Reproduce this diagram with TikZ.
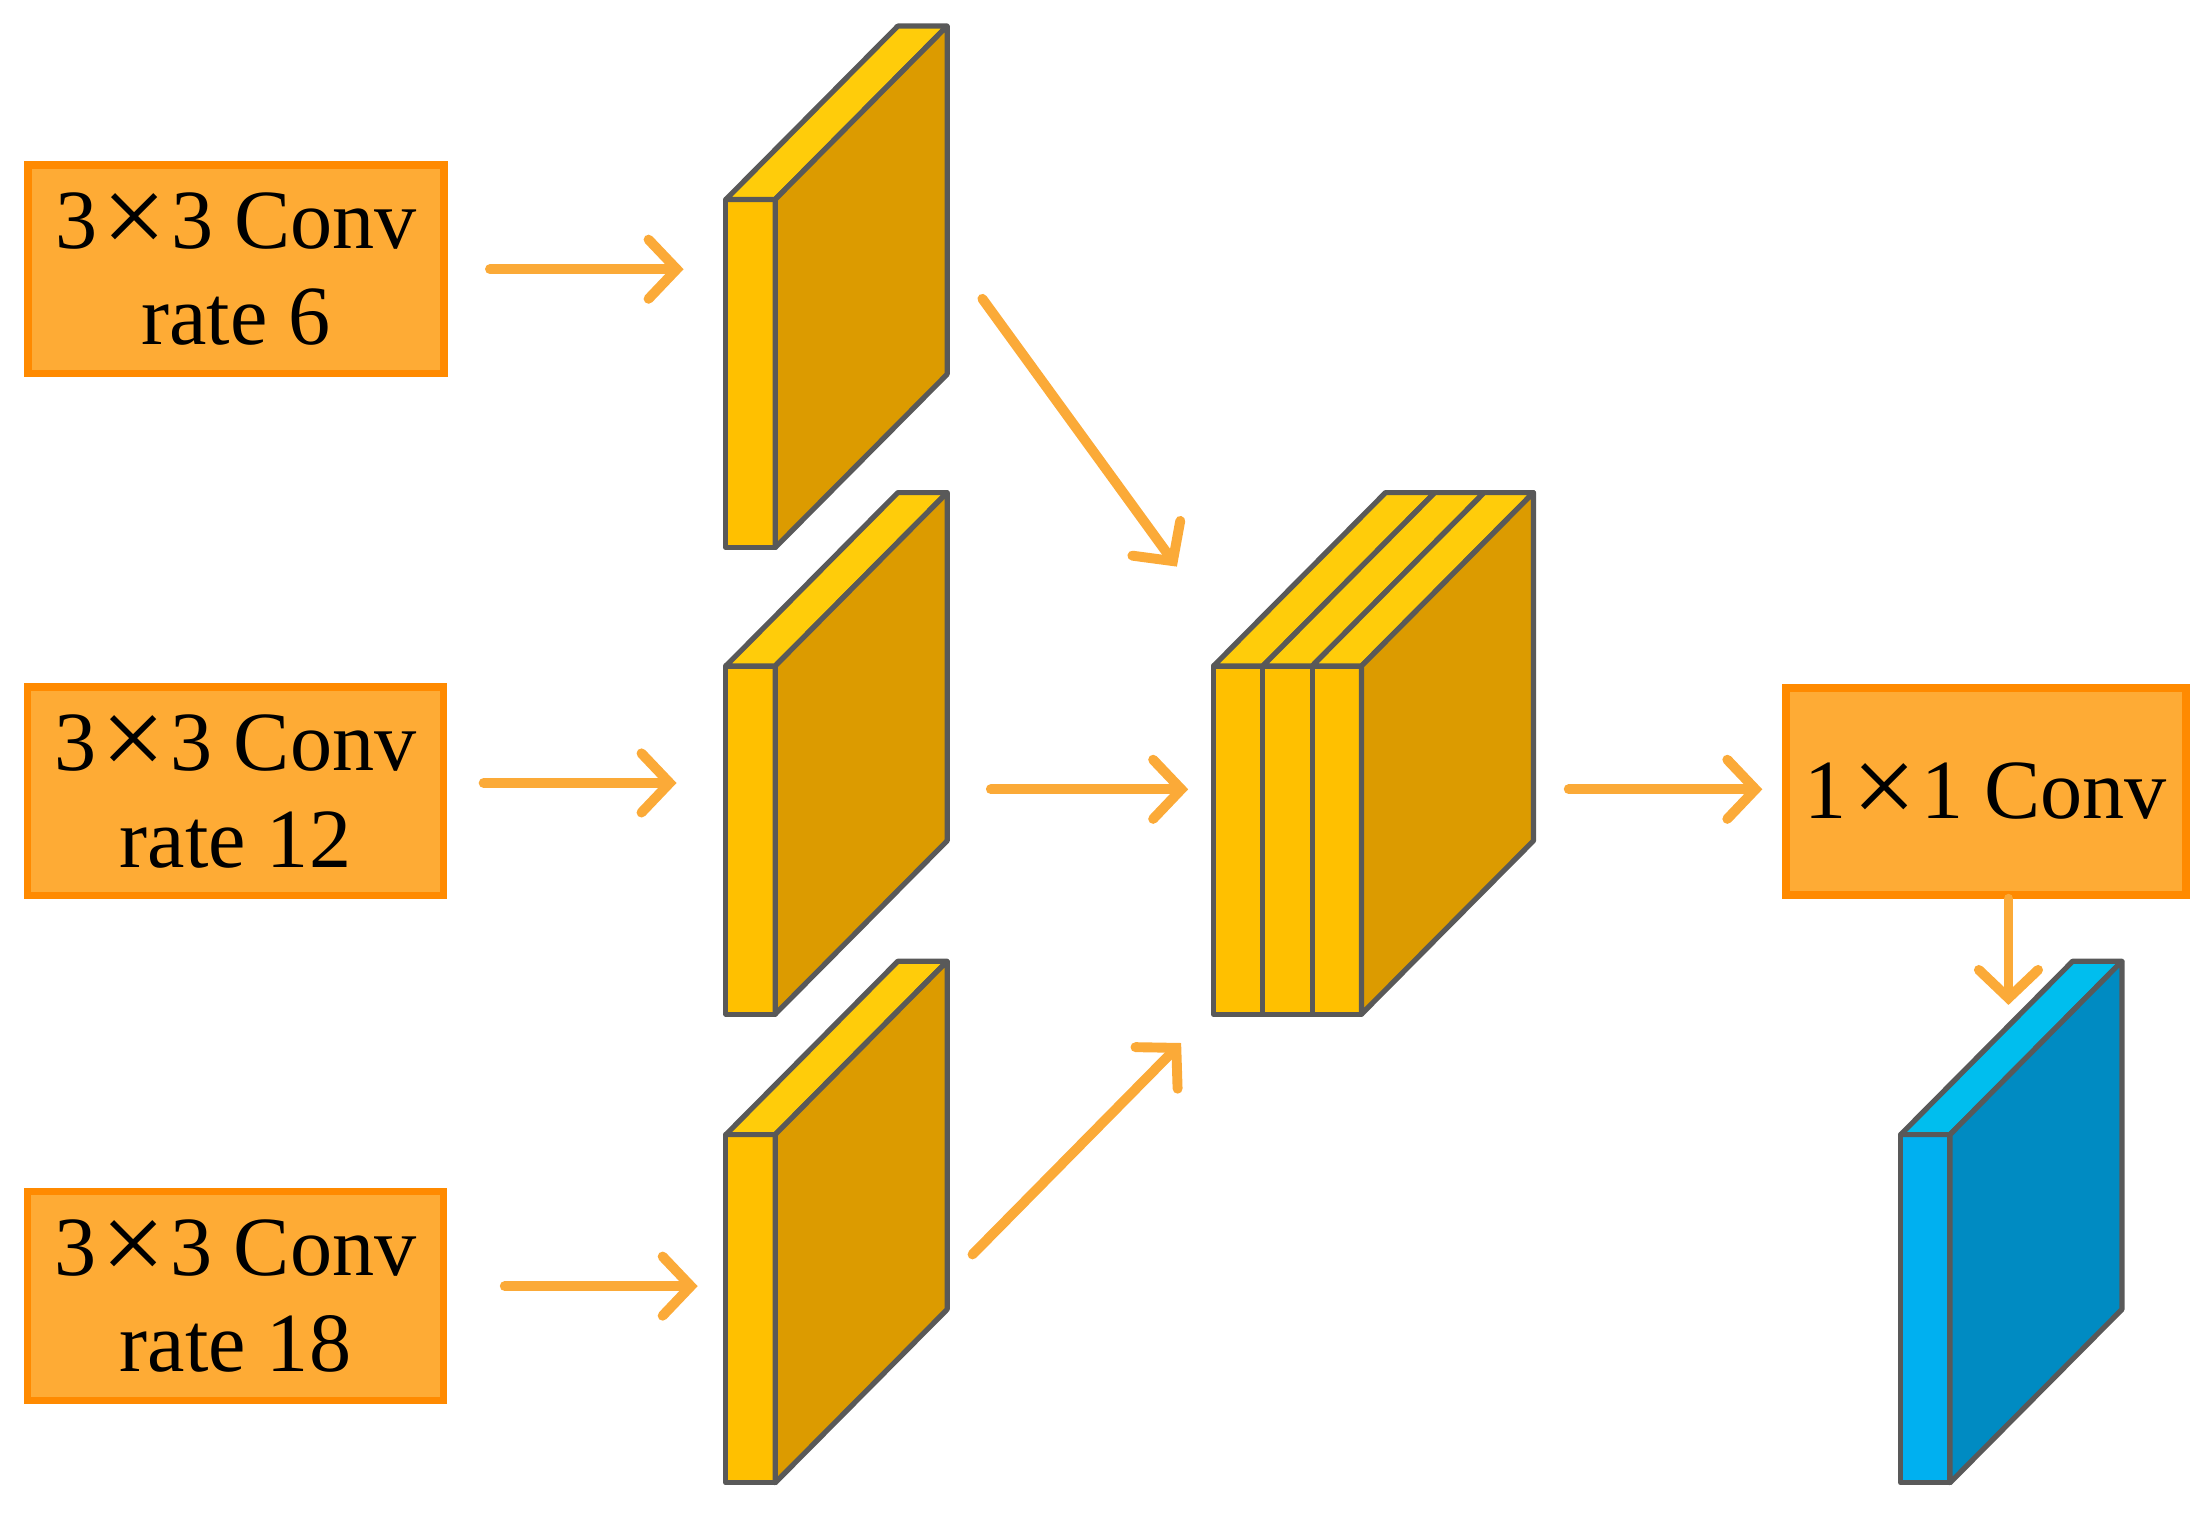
\documentclass[tikz,border=0pt]{standalone}
\usepackage{fontspec}
\setmainfont{Liberation Serif}
\usetikzlibrary{arrows.meta}

\definecolor{boxfill}{HTML}{FEAB35}
\definecolor{boxline}{HTML}{FF8A00}
\definecolor{arrcol}{HTML}{FBAA38}
\definecolor{edgecol}{HTML}{595959}
\definecolor{ylwfront}{HTML}{FFC000}
\definecolor{ylwtop}{HTML}{FFCC0A}
\definecolor{ylwside}{HTML}{DC9B00}
\definecolor{bluefront}{HTML}{00B0F0}
\definecolor{bluetop}{HTML}{00BEEE}
\definecolor{blueside}{HTML}{008BC2}

\def\dx{1.22}
\def\dy{1.23}
\def\w{0.35}
\def\h{2.47}
\def\tms{\kern0.06em\smash{\raisebox{-0.07em}{\scalebox{1.35}{×}}}\kern0.06em}

% one feature map: front node #1 at #2, faces coloured #3 #4 #5
\newcommand{\slab}[5]{
  \node[front, fill=#3] (#1) at (#2) {};
  \draw[face, fill=#4] (#1.north west) -- ++(\dx,\dy) -- ++(\w,0) -- (#1.north east) -- cycle;
  \draw[face, fill=#5] (#1.north east) -- ++(\dx,\dy) -- ++(0,-\h) -- (#1.south east) -- cycle;
}

\begin{document}
\begin{tikzpicture}
  \tikzset{
    conv/.style={draw=boxline, fill=boxfill, line width=1.5pt, minimum width=2.95cm,
      minimum height=1.48cm, align=center, inner sep=0pt,
      font=\fontsize{17}{19.5}\selectfont},
    front/.style={draw=edgecol, line width=1.05pt, line join=round, minimum width=\w cm,
      minimum height=\h cm, inner sep=0pt, outer sep=0pt},
    face/.style={draw=edgecol, line width=1.05pt, line join=round},
    arr/.style={draw=arrcol, line width=2pt, line cap=round,
      -{Straight Barb[length=0.2cm, width=0.42cm, line cap=round]}},
  }
  \useasboundingbox (0,0) rectangle (15.68,-10.76);

  % conv boxes
  \node[conv] (b1) at (1.675,-1.91) {3\tms3 Conv\\rate 6};
  \node[conv] (b2) at (1.67,-5.615) {3\tms3 Conv\\rate 12};
  \node[conv] (b3) at (1.67,-9.195) {3\tms3 Conv\\rate 18};
  \node[conv, minimum width=2.84cm, minimum height=1.47cm] (b4) at (14.09,-5.615) {1\tms1 Conv};

  % feature maps
  \slab{s1}{5.325,-2.65}{ylwfront}{ylwtop}{ylwside}
  \slab{s2}{5.325,-5.96}{ylwfront}{ylwtop}{ylwside}
  \slab{s3}{5.325,-9.285}{ylwfront}{ylwtop}{ylwside}

  % concatenation
  \node[front, fill=ylwfront] (c1) at (8.785,-5.96) {};
  \node[front, fill=ylwfront] (c2) at (9.135,-5.96) {};
  \node[front, fill=ylwfront] (c3) at (9.485,-5.96) {};
  \foreach \c in {c1,c2,c3}
    \draw[face, fill=ylwtop] (\c.north west) -- ++(\dx,\dy) -- ++(\w,0) -- (\c.north east) -- cycle;
  \draw[face, fill=ylwside] (c3.north east) -- ++(\dx,\dy) -- ++(0,-\h) -- (c3.south east) -- cycle;

  % output
  \slab{o1}{13.66,-9.285}{bluefront}{bluetop}{blueside}

  \coordinate (t1) at (6.97,-2.12);
  \coordinate (t2) at (8.35,-4.02);
  \coordinate (m1) at (7.03,-5.6);
  \coordinate (m2) at (8.43,-5.6);
  \coordinate (u1) at (6.90,-8.90);
  \coordinate (u2) at (8.38,-7.40);
  \coordinate (k1) at (11.13,-5.6);
  \coordinate (k2) at (14.25,-7.13);

  \draw[arr, shorten <=0.3cm, shorten >=0.3cm] (b1.east) -- (b1.east -| s1.west);
  \draw[arr, shorten <=0.26cm, shorten >=0.35cm] ([yshift=0.06cm]b2.east) -- ([yshift=0.06cm]b2.east -| s2.west);
  \draw[arr, shorten <=0.41cm, shorten >=0.2cm] ([yshift=0.07cm]b3.east) -- ([yshift=0.07cm]b3.east -| s3.west);
  \draw[arr] (t1) -- (t2);
  \draw[arr] (m1) -- (m2);
  \draw[arr] (u1) -- (u2);
  \draw[arr, shorten >=0.14cm] (k1) -- (k1 -| b4.west);
  \draw[arr] (b4.south -| k2) -- (k2);
\end{tikzpicture}
\end{document}
